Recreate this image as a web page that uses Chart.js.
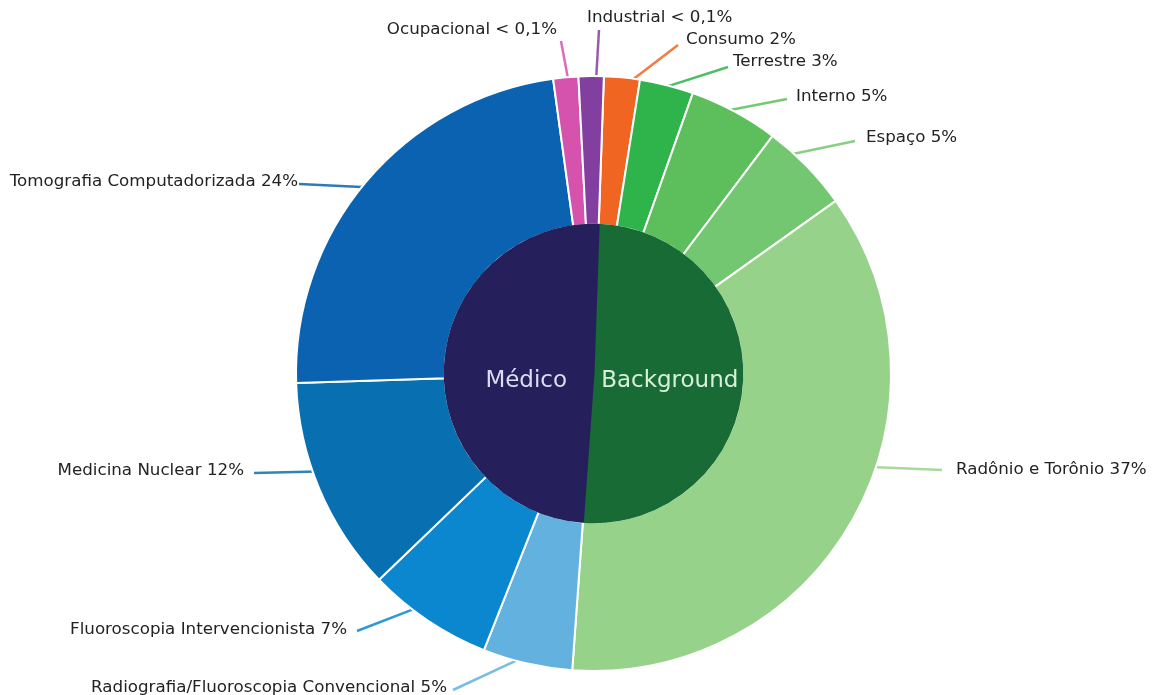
<!DOCTYPE html>
<html>
<head>
<meta charset="utf-8">
<title>Fontes de radiação</title>
<script src="https://cdn.jsdelivr.net/npm/chart.js@4/dist/chart.umd.min.js"></script>
<style>
	body { margin: 0; background: #fff; }
	#wrap { width: 1156px; height: 695px; position: relative; }
</style>
</head>
<body>
<div id="wrap"><canvas id="myChart"></canvas></div>
<script>
// outer ring, clockwise from the top of the "Background" half
let backgroundNames = ["Consumo", "Terrestre", "Interno", "Espaço", "Radônio e Torônio"];
let backgroundValues = [2, 3, 5, 5, 37];

let medicalNames = ["Radiografia/Fluoroscopia Convencional", "Fluoroscopia Intervencionista", "Medicina Nuclear", "Tomografia Computadorizada"];
let medicalValues = [5, 7, 12, 24];

// these two are under 0,1% but are drawn as thin visible wedges
let otherNames = ["Ocupacional", "Industrial"];
let otherValues = [1.4, 1.4];
let otherTexts = ["< 0,1%", "< 0,1%"];

let groupNames = ["Background", "Médico"];

let backgroundColors = ["#f06522", "#2fb34b", "#5dbf5c", "#72c770", "#97d28a"];
let medicalColors = ["#62b1de", "#0a87cf", "#0870b0", "#0b62b0"];
let otherColors = ["#d552ad", "#823fa0"];
let groupColors = ["#186b35", "#25205b"];
let groupTextColors = ["#d8f0d8", "#dcdcf2"];

let sum = (arr) => arr.reduce((a, b) => a + b, 0);

let ringLabels = backgroundNames.concat(medicalNames, otherNames);
let ringValues = backgroundValues.concat(medicalValues, otherValues);
let ringColors = backgroundColors.concat(medicalColors, otherColors);
let ringTexts = backgroundNames.map((n, i) => n + " " + backgroundValues[i] + "%")
	.concat(medicalNames.map((n, i) => n + " " + medicalValues[i] + "%"))
	.concat(otherNames.map((n, i) => n + " " + otherTexts[i]));

// inner pie: background vs everything else
let groupValues = [sum(backgroundValues), sum(medicalValues) + sum(otherValues)];

// where each callout touches the ring (degrees clockwise from 12 o'clock),
// where its line ends, and where its text sits
let calloutLayout = [
	{ angle: 7.0,   lx: 678, ly: 45,  tx: 686, ty: 40,  align: "left" },
	{ angle: 13.5,  lx: 728, ly: 67,  tx: 733, ty: 62,  align: "left" },
	{ angle: 26.6,  lx: 787, ly: 99,  tx: 796, ty: 97,  align: "left" },
	{ angle: 41.8,  lx: 855, ly: 141, tx: 866, ty: 138, align: "left" },
	{ angle: 108.6, lx: 942, ly: 470, tx: 956, ty: 470, align: "left" },
	{ angle: 194.2, lx: 453, ly: 690, tx: 447, ty: 688, align: "right" },
	{ angle: 217.0, lx: 357, ly: 631, tx: 347, ty: 630, align: "right" },
	{ angle: 250.5, lx: 254, ly: 473, tx: 244, ty: 471, align: "right" },
	{ angle: 309.4, lx: 299, ly: 184, tx: 298, ty: 182, align: "right" },
	{ angle: 355.1, lx: 561, ly: 41,  tx: 557, ty: 30,  align: "right" },
	{ angle: 0.5,   lx: 599, ly: 30,  tx: 587, ty: 18,  align: "left" },
];

let calloutPlugin = {
	id: "callouts",
	beforeDatasetsDraw(chart) {
		let ctx = chart.ctx;
		let arc = chart.getDatasetMeta(0).data[0];
		let { x, y, outerRadius } = arc.getProps(["x", "y", "outerRadius"], true);
		ctx.save();
		ctx.lineWidth = 2.5;
		ctx.globalAlpha = 0.85;
		calloutLayout.forEach((c, i) => {
			let a = (c.angle * Math.PI) / 180;
			let ex = x + Math.sin(a) * (outerRadius - 4);
			let ey = y - Math.cos(a) * (outerRadius - 4);
			ctx.strokeStyle = ringColors[i];
			ctx.beginPath();
			ctx.moveTo(c.lx, c.ly);
			ctx.lineTo(ex, ey);
			ctx.stroke();
		});
		ctx.restore();
	},
	afterDatasetsDraw(chart) {
		let ctx = chart.ctx;
		ctx.save();
		ctx.font = "16.7px 'DejaVu Sans'";
		ctx.fillStyle = "#222";
		ctx.textBaseline = "middle";
		calloutLayout.forEach((c, i) => {
			ctx.textAlign = c.align;
			ctx.fillText(ringTexts[i], c.tx, c.ty);
		});

		// group names on one line across the middle of the pie
		ctx.font = "23px 'DejaVu Sans'";
		ctx.textAlign = "center";
		let centerY = chart.getDatasetMeta(1).data[0].y;
		chart.getDatasetMeta(1).data.forEach((el, i) => {
			let p = el.tooltipPosition(true);
			ctx.fillStyle = groupTextColors[i];
			ctx.fillText(groupNames[i], p.x + (i === 1 ? 7 : 2), centerY + 8);
		});
		ctx.restore();
	},
};

var ctx = document.getElementById("myChart").getContext("2d");
var chart = new Chart(ctx, {
	type: "doughnut",
	data: {
		labels: ringLabels,
		datasets: [
			{
				label: "Fontes",
				data: ringValues,
				backgroundColor: ringColors,
				borderColor: "#ffffff",
				borderWidth: 2,
				weight: 1,
			},
			{
				label: "Grupos",
				data: groupValues,
				backgroundColor: groupColors,
				borderColor: groupColors,
				borderWidth: 2,
				weight: 1,
				// drawn over the ring so its inner white edge is hidden
				order: -1,
			},
		],
	},
	options: {
		responsive: true,
		maintainAspectRatio: false,
		animation: false,
		events: [],
		cutout: 0,
		rotation: 2,
		layout: {
			padding: { left: 295, top: 75, right: 264, bottom: 23 },
		},
		plugins: {
			legend: { display: false },
			tooltip: { enabled: false },
		},
	},
	plugins: [calloutPlugin],
});
</script>
</body>
</html>
